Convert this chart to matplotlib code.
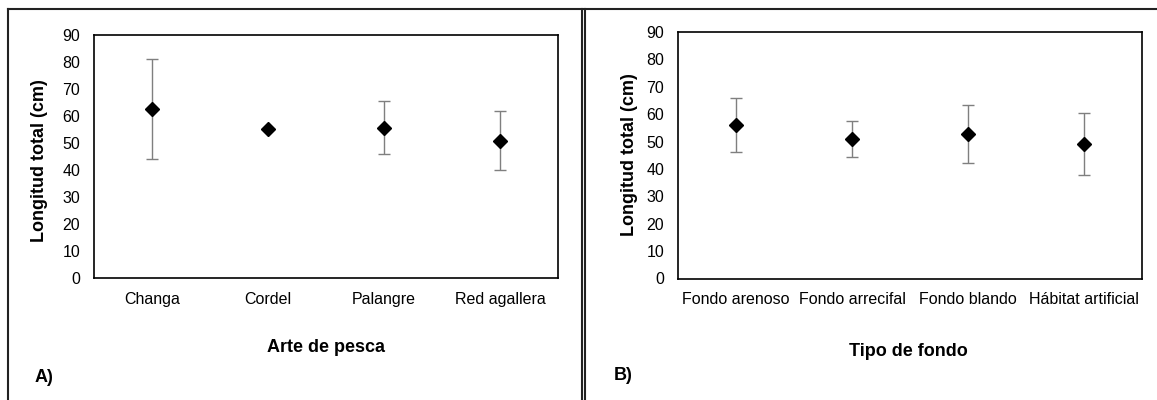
import matplotlib
matplotlib.use("Agg")
import matplotlib.pyplot as plt
from matplotlib.lines import Line2D
import numpy as np

plt.rcParams['font.family'] = ['Liberation Sans', 'DejaVu Sans']

# panel A: arte de pesca
artes = ["Changa", "Cordel", "Palangre", "Red agallera"]
media_arte = [62.5, 55.3, 55.7, 50.9]
de_arte = [18.5, 0.0, 9.7, 11.0]

# panel B: tipo de fondo
fondos = ["Fondo arenoso", "Fondo arrecifal", "Fondo blando", "Hábitat artificial"]
media_fondo = [56.0, 50.9, 52.8, 49.2]
de_fondo = [9.9, 6.5, 10.5, 11.4]

yticks = list(range(0, 91, 10))

W, H = 1157, 400
fig = plt.figure(figsize=(W / 100, H / 100), dpi=100)

def px_axes(x0, y0, x1, y1):
    return fig.add_axes([x0 / W, 1 - y1 / H, (x1 - x0) / W, (y1 - y0) / H])

def panel(ax, cats, means, errs):
    x = np.arange(len(cats))
    ax.errorbar(x, means, yerr=errs, fmt='none', ecolor='#7f7f7f',
                elinewidth=1.0, capsize=4, capthick=1.0, zorder=2)
    ax.plot(x, means, 'D', color='black', markersize=7.2, zorder=3)
    ax.set_xlim(-0.5, len(cats) - 0.5)
    ax.set_ylim(0, 90)
    ax.set_yticks(yticks)
    ax.set_xticks(x)
    ax.set_xticklabels(cats)
    ax.tick_params(axis='both', length=0, labelsize=11.5)
    ax.tick_params(axis='y', pad=10)
    ax.tick_params(axis='x', pad=10)
    for s in ax.spines.values():
        s.set_linewidth(1.2)
        s.set_color('black')

axA = px_axes(94, 35, 558, 278)
panel(axA, artes, media_arte, de_arte)
axB = px_axes(678, 32, 1142, 278.5)
panel(axB, fondos, media_fondo, de_fondo)

fig.text(40 / W, 1 - 161 / H, "Longitud total (cm)", rotation=90, fontsize=13,
         fontweight='bold', ha='center', va='center')
fig.text(629 / W, 1 - 155 / H, "Longitud total (cm)", rotation=90, fontsize=13,
         fontweight='bold', ha='center', va='center')
fig.text(326 / W, 1 - 347 / H, "Arte de pesca", fontsize=13, fontweight='bold',
         ha='center', va='center')
fig.text(908 / W, 1 - 351 / H, "Tipo de fondo", fontsize=13, fontweight='bold',
         ha='center', va='center')
fig.text(35 / W, 1 - 378 / H, "A)", fontsize=13, fontweight='bold', ha='left', va='center')
fig.text(614 / W, 1 - 375 / H, "B)", fontsize=13, fontweight='bold', ha='left', va='center')

# outer frame lines
frame = dict(color='#222222', linewidth=1.5)
fig.add_artist(Line2D([8 / W, 1], [1 - 9 / H, 1 - 9 / H], **frame))
fig.add_artist(Line2D([8 / W, 8 / W], [0, 1 - 9 / H], **frame))
fig.add_artist(Line2D([582 / W, 582 / W], [0, 1 - 9 / H], **frame))
fig.add_artist(Line2D([585 / W, 585 / W], [0, 1 - 9 / H], **frame))

fig.savefig("out.png", dpi=100)
